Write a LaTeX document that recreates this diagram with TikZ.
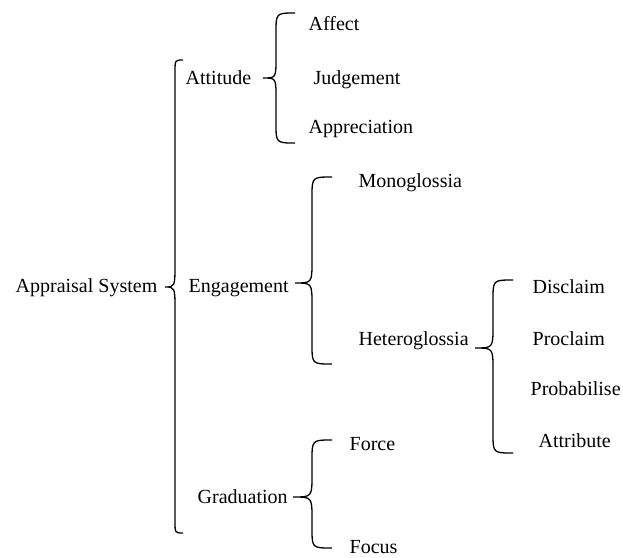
\documentclass[tikz,border=0pt]{standalone}
\usepackage{fontspec}
\setmainfont{Liberation Serif}
% brace: end x, line x, tip x, top y, tip y, bottom y, end curl, tip curl
\newcommand{\wbrace}[8]{%
  \draw (#1,#4) .. controls (#2,#4) .. (#2,#4+#7) -- (#2,#5-#8)
    .. controls (#2,#5) .. (#3,#5) .. controls (#2,#5) .. (#2,#5+#8)
    -- (#2,#6-#7) .. controls (#2,#6) .. (#1,#6);}
\tikzset{
  lbl/.style={anchor=base west, inner sep=0pt, font=\fontsize{20}{24}\selectfont}
}
\begin{document}
\begin{tikzpicture}[x=1pt, y=-1pt, line width=1.3pt]
            \useasboundingbox (0,0) rectangle (623,557);
            % labels
            \node[lbl] (sys) at (15,292) {Appraisal System};
            \node[lbl] (att) at (185,84) {Attitude};
            \node[lbl] (aff) at (308,30) {Affect};
            \node[lbl] (jud) at (313,84) {Judgement};
            \node[lbl] (app) at (308,133) {Appreciation};
            \node[lbl] (eng) at (188,292) {Engagement};
            \node[lbl] (mono) at (358,187) {Monoglossia};
            \node[lbl] (het) at (358,345) {Heteroglossia};
            \node[lbl] (dis) at (532,293) {Disclaim};
            \node[lbl] (pro) at (532,345) {Proclaim};
            \node[lbl] (prob) at (530,395) {Probabilise};
            \node[lbl] (attr) at (538,447) {Attribute};
            \node[lbl] (grad) at (197,503) {Graduation};
            \node[lbl] (force) at (349,450) {Force};
            \node[lbl] (focus) at (349,553) {Focus};
            % braces
            \wbrace{183}{175}{165}{60}{287}{533}{12}{24}
            \wbrace{295}{276}{263}{13}{78}{143}{20}{20}
            \wbrace{332}{312}{295}{177}{283}{364}{20}{22}
            \wbrace{513}{493}{475}{280}{348}{453}{20}{22}
            \wbrace{332}{312}{293}{440}{497}{548}{20}{22}
\end{tikzpicture}
\end{document}
